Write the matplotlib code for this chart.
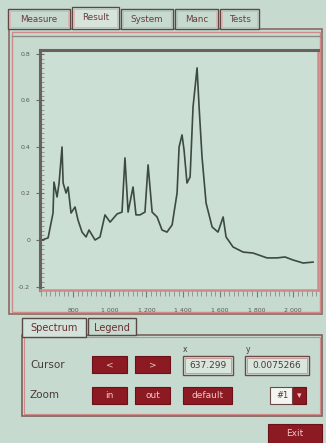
import matplotlib
matplotlib.use("Agg")
import matplotlib.pyplot as plt
from matplotlib.patches import Rectangle
from matplotlib.ticker import MultipleLocator, FuncFormatter

# ---- data ----
wavenumber = [631, 664, 691, 696, 713, 724, 740, 746, 762, 773, 789, 811, 827, 849,
              871, 887, 920, 947, 974, 1002, 1040, 1067, 1083, 1100, 1127, 1143, 1165,
              1192, 1209, 1231, 1258, 1285, 1312, 1340, 1367, 1378, 1394, 1405, 1421,
              1438, 1454, 1476, 1487, 1503, 1525, 1558, 1590, 1618, 1634, 1672, 1727,
              1781, 1857, 1912, 1955, 1999, 2054, 2108]
intensity = [0.0, 0.009, 0.116, 0.249, 0.185, 0.245, 0.400, 0.245, 0.202, 0.228, 0.116,
             0.142, 0.086, 0.034, 0.013, 0.043, 0.0, 0.013, 0.108, 0.077, 0.112, 0.120,
             0.353, 0.120, 0.228, 0.108, 0.108, 0.120, 0.323, 0.120, 0.099, 0.043, 0.034,
             0.065, 0.202, 0.400, 0.452, 0.387, 0.245, 0.271, 0.572, 0.740, 0.572, 0.357,
             0.159, 0.056, 0.034, 0.099, 0.013, -0.030, -0.052, -0.056, -0.077, -0.077,
             -0.073, -0.086, -0.099, -0.095]
x_ticks = [800, 1000, 1200, 1400, 1600, 1800, 2000]
x_tick_labels = ["800", "1 000", "1 200", "1 400", "1 600", "1 800", "2 000"]
y_ticks = [-0.2, 0, 0.2, 0.4, 0.6, 0.8]
y_tick_labels = ["-0.2", "0", "0.2", "0.4", "0.6", "0.8"]
main_tabs = ["Measure", "Result", "System", "Manc", "Tests"]
sub_tabs = ["Spectrum", "Legend"]
cursor_x = "637.299"
cursor_y = "0.0075266"

W, H = 326, 443
BG = "#c6dacf"
PLOT_BG = "#cbdfd5"
PINK = "#d08a8a"
DARK = "#6a625a"
RED = "#8c1a22"
TXT = "#4a3a3a"

fig = plt.figure(figsize=(W / 100, H / 100), dpi=100, facecolor=BG)

gui = fig.add_axes([0, 0, 1, 1], zorder=0)
gui.set_xlim(0, W)
gui.set_ylim(H, 0)
gui.axis("off")
gui.set_facecolor(BG)

def rect(x0, y0, x1, y1, fc="none", ec="none", lw=1.0, z=1):
    gui.add_patch(Rectangle((x0, y0), x1 - x0, y1 - y0, facecolor=fc, edgecolor=ec, lw=lw, zorder=z))

# outer panel
rect(9, 29, 322, 314, fc=BG, ec="#8a6a62", lw=1.2)
rect(12, 32, 320, 312, fc="none", ec=PINK, lw=1.0)
gui.plot([12, 320], [35.5, 35.5], color="#8a8a84", lw=1.0, zorder=2)

# main tabs
tab_x = [(8, 70), (72, 119), (121, 173), (175, 218), (220, 259)]
for i, (name, (a, b)) in enumerate(zip(main_tabs, tab_x)):
    sel = (i == 1)
    rect(a, 9 if not sel else 7, b, 29, fc="#d6e4dc" if sel else BG, ec="#5a4a46", lw=1.0, z=3)
    rect(a + 2, 11 if not sel else 9, b - 2, 27, fc="none", ec="#e0b0b0", lw=0.6, z=3)
    gui.text((a + b) / 2, 19 if not sel else 17, name, ha="center", va="center",
             fontsize=6.3, color="#6a3a3a", zorder=4, family="DejaVu Sans")

# lower sub-panel
rect(22, 335, 322, 416, fc=BG, ec="#7a625a", lw=1.2)
rect(24, 337, 320, 414, fc="none", ec=PINK, lw=0.8)
sub_x = [(22, 86), (88, 136)]
for i, (name, (a, b)) in enumerate(zip(sub_tabs, sub_x)):
    sel = (i == 0)
    rect(a, 318, b, 337 if sel else 335, fc="#d3e2da" if sel else BG, ec="#5a4a46", lw=1.0, z=3)
    gui.text((a + b) / 2, 328, name, ha="center", va="center", fontsize=7,
             color="#6a3030", zorder=4)

gui.text(185, 349, "x", ha="center", va="center", fontsize=5.5, color=TXT)
gui.text(248, 349, "y", ha="center", va="center", fontsize=5.5, color=TXT)
gui.text(30, 365, "Cursor", ha="left", va="center", fontsize=7.5, color=TXT)
gui.text(30, 395, "Zoom", ha="left", va="center", fontsize=7.5, color=TXT)

def button(x0, y0, x1, y1, label):
    rect(x0, y0, x1, y1, fc=RED, ec="#6a1018", lw=0.8, z=3)
    gui.text((x0 + x1) / 2, (y0 + y1) / 2, label, ha="center", va="center",
             fontsize=6.5, color="#f0c8c8", zorder=4)

button(92, 356, 127, 373, "<")
button(135, 356, 170, 373, ">")
button(92, 387, 127, 404, "in")
button(135, 387, 170, 404, "out")
button(183, 387, 232, 404, "default")
button(292, 387, 306, 404, "\u25be")
button(268, 424, 322, 443, "Exit")

for (a, b), txt in [((183, 233), cursor_x), ((245, 309), cursor_y)]:
    rect(a, 356, b, 375, fc="#d8e6de", ec="#6a4a46", lw=1.0, z=3)
    rect(a + 2, 358, b - 2, 373, fc="none", ec="#c89090", lw=0.6, z=3)
    gui.text((a + b) / 2, 366, txt, ha="center", va="center", fontsize=6.5,
             color=TXT, zorder=4)
rect(270, 387, 292, 404, fc="#f4f4f0", ec="#6a4a46", lw=0.8, z=3)
gui.text(276, 396, "#1", ha="left", va="center", fontsize=6, color=TXT, zorder=4)

# ---- spectrum plot ----
L, R, T, B = 40, 318, 50, 290
ax = fig.add_axes([L / W, 1 - B / H, (R - L) / W, (B - T) / H], zorder=2)
ax.set_facecolor(PLOT_BG)
ax.plot(wavenumber, intensity, color="#3c4a42", lw=1.2)
ax.set_xlim(620, 2135)
ax.set_ylim(-0.215, 0.817)
ax.set_xticks(x_ticks)
ax.set_xticklabels(x_tick_labels)
ax.set_yticks(y_ticks)
ax.set_yticklabels(y_tick_labels)
ax.xaxis.set_minor_locator(MultipleLocator(25))
ax.yaxis.set_minor_locator(MultipleLocator(0.02))
ax.tick_params(axis="x", which="major", direction="out", length=5, width=0.8,
               color="#7a7a74", labelsize=4.5, labelcolor="#5a5a5a", pad=8)
ax.tick_params(axis="x", which="minor", direction="out", length=4, width=0.6, color="#8a8a84")
ax.tick_params(axis="y", which="major", direction="inout", length=6, width=0.8,
               color="#6a6a64", labelsize=4.5, labelcolor="#5a5a5a", pad=4)
ax.tick_params(axis="y", which="minor", direction="in", length=3, width=0.6, color="#8a8a84")
ax.spines["top"].set_color(DARK)
ax.spines["top"].set_linewidth(2.2)
ax.spines["left"].set_color(DARK)
ax.spines["left"].set_linewidth(2.2)
ax.spines["bottom"].set_color(PINK)
ax.spines["bottom"].set_linewidth(1.8)
ax.spines["right"].set_color(PINK)
ax.spines["right"].set_linewidth(1.8)

fig.savefig("out.png", dpi=100, facecolor=BG)
